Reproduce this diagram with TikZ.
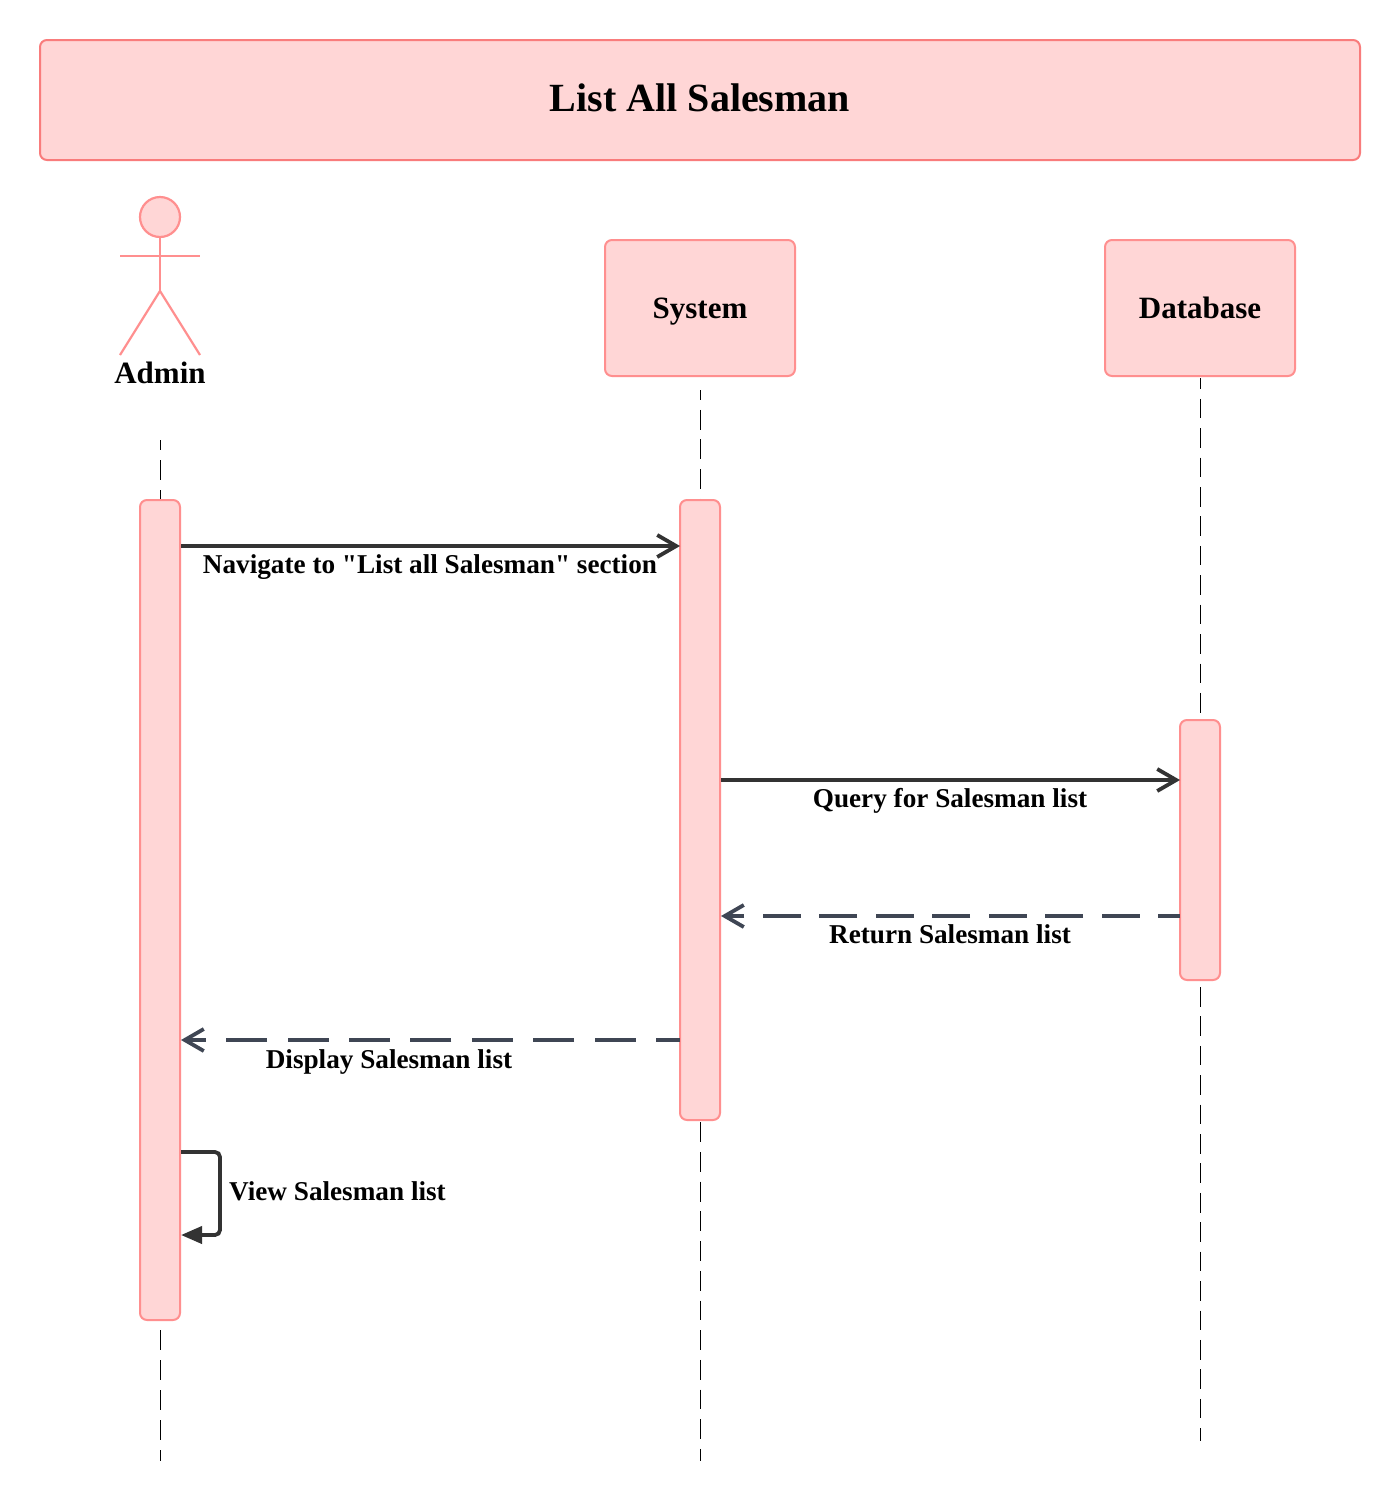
\documentclass[tikz,border=0pt]{standalone}
\usepackage{fontspec}
\setmainfont{Liberation Serif}
\newfontfamily\plainbold[BoldFont={Liberation Serif Bold}]{Liberation Serif}
\usetikzlibrary{arrows.meta}
\definecolor{boxfill}{HTML}{FFD6D6}
\definecolor{boxline}{HTML}{FF8F8F}
\definecolor{titleline}{HTML}{F97C7C}
\definecolor{solidline}{HTML}{333333}
\definecolor{dashline}{HTML}{3F4654}
\tikzset{
  x=1pt,y=-1pt,
  box/.style={draw=boxline,fill=boxfill,line width=2pt,rounded corners=7pt,inner sep=0pt,outer sep=0pt},
  titlebox/.style={box,draw=titleline,minimum width=1320pt,minimum height=120pt},
  partbox/.style={box,minimum width=190pt,minimum height=136pt},
  actbox/.style={box,minimum width=40pt},
  limb/.style={draw=boxline,line width=2.2pt},
  lifeline/.style={draw=black,line width=1pt},
  barb/.style={-{Straight Barb[length=19pt,width=22pt,line width=3.8pt]}},
  msg/.style={draw=solidline,line width=3.8pt,barb},
  rmsg/.style={draw=dashline,line width=3.8pt,barb},
  selfmsg/.style={draw=solidline,line width=3.8pt,rounded corners=5pt,-{Triangle[length=21pt,width=17pt]}},
  lbl/.style={inner sep=0pt,anchor=base,text=black,font=\plainbold\fontsize{27.2}{30}\selectfont\bfseries},
  headlbl/.style={lbl,font=\plainbold\fontsize{31}{34}\selectfont\bfseries},
}
\begin{document}
\begin{tikzpicture}
\useasboundingbox (0,0) rectangle (1400,1500);
\fill[white] (0,0) rectangle (1400,1500);
% lifeline ends
\coordinate (la0) at (160,440); \coordinate (la1) at (160,1461);
\coordinate (lb0) at (700,390); \coordinate (lb1) at (700,1461);
\coordinate (lc0) at (1200,378); \coordinate (lc1) at (1200,1441);
\draw[lifeline,dash pattern=on 20pt off 10pt,dash phase=10pt] (la0) -- (la1);
\draw[lifeline,dash pattern=on 19.79pt off 9.9pt,dash phase=9.9pt] (lb0) -- (lb1);
\draw[lifeline,dash pattern=on 19.61pt off 9.8pt,dash phase=8.6pt] (lc0) -- (lc1);
% title
\node[titlebox] (title) at (700,100) {};
\node[lbl,font=\plainbold\fontsize{40}{44}\selectfont\bfseries] (titletext) at (700,111) {List All Salesman};
% actor
\node[draw=boxline,fill=boxfill,line width=2.2pt,circle,minimum size=40pt,inner sep=0pt] (head) at (160,217) {};
\coordinate (hip) at (160,291);
\coordinate (armL) at (120,256); \coordinate (armR) at (200,256);
\coordinate (footL) at (120,355); \coordinate (footR) at (200,355);
\draw[limb] (head.south) -- (hip);
\draw[limb] (armL) -- (armR);
\draw[limb] (footL) -- (hip) -- (footR);
\node[headlbl] (admin) at (160,383) {Admin};
% participants
\node[partbox] (system) at (700,308) {};
\node[headlbl] (systemtext) at (700,318) {System};
\node[partbox] (database) at (1200,308) {};
\node[headlbl] (databasetext) at (1200,318) {Database};
% activations
\node[actbox,minimum height=820pt] (acta) at (160,910) {};
\node[actbox,minimum height=620pt] (actb) at (700,810) {};
\node[actbox,minimum height=260pt] (actc) at (1200,850) {};
% message anchors
\coordinate (m1s) at (181,546); \coordinate (m1e) at (680,546);
\coordinate (m2s) at (721,780); \coordinate (m2e) at (1180,780);
\coordinate (m3s) at (1180,916); \coordinate (m3e) at (721,916);
\coordinate (m4s) at (680,1040); \coordinate (m4e) at (181,1040);
\coordinate (m5s) at (181,1152); \coordinate (m5a) at (220,1152); \coordinate (m5b) at (220,1235); \coordinate (m5e) at (181,1235);
\draw[msg] (m1s) -- (m1e);
\draw[msg] (m2s) -- (m2e);
\draw[rmsg,dash pattern=on 38pt off 18.5pt,dash phase=16pt] (m3s) -- (m3e);
\draw[rmsg,dash pattern=on 41pt off 20.4pt,dash phase=17pt] (m4s) -- (m4e);
\draw[selfmsg] (m5s) -- (m5a) -- (m5b) -- (m5e);
% labels
\node[lbl] (l1) at (430,573) {Navigate to "List all Salesman" section};
\node[lbl] (l2) at (950,807) {Query for Salesman list};
\node[lbl] (l3) at (950,943) {Return Salesman list};
\node[lbl] (l4) at (389,1068) {Display Salesman list};
\node[lbl,anchor=base west] (l5) at (229,1200) {View Salesman list};
\end{tikzpicture}
\end{document}
